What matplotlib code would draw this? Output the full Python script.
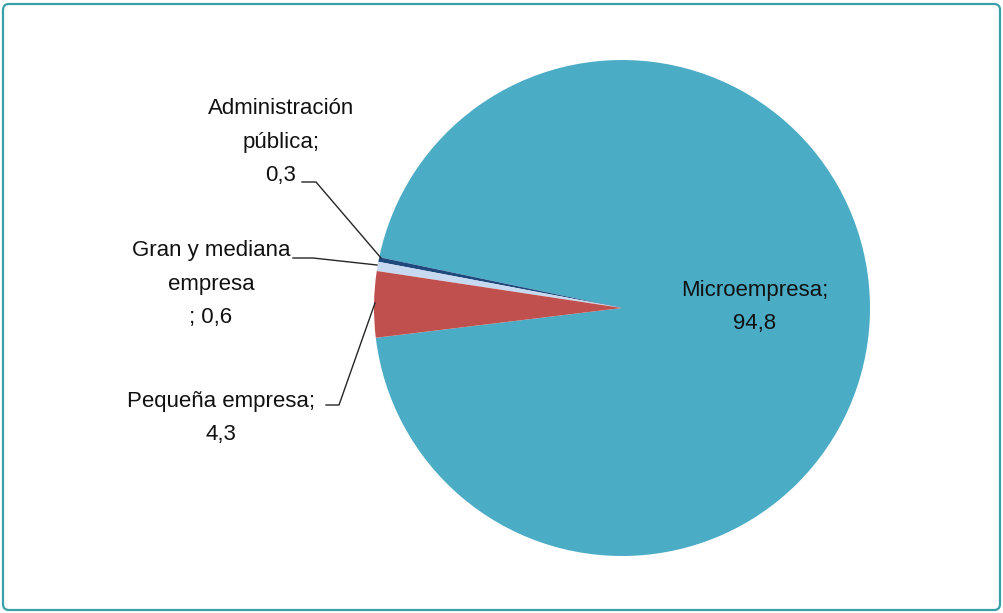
import matplotlib.pyplot as plt
from matplotlib.patches import FancyBboxPatch

# data
sectores = ["Microempresa", "Administración pública", "Gran y mediana empresa", "Pequeña empresa"]
porcentajes = [94.8, 0.3, 0.6, 4.3]
colores = ["#4BACC6", "#1F497D", "#C6D9F1", "#C0504D"]

W, H = 1004, 613
plt.rcParams['font.family'] = ['Liberation Sans', 'DejaVu Sans']

fig = plt.figure(figsize=(W / 100, H / 100), dpi=100)
ax = fig.add_axes([0, 0, 1, 1])

def py(y):
    # pixel row (from top) -> data y
    return H - y

ax.pie(porcentajes, colors=colores, startangle=186.9, counterclock=True,
       center=(622, py(308)), radius=248, frame=True,
       wedgeprops=dict(linewidth=0))
ax.set_xlim(0, W)
ax.set_ylim(0, H)
ax.set_aspect('equal')
ax.axis('off')

# teal rounded frame
frame = FancyBboxPatch((3, py(610)), W - 7, 606, boxstyle="round,pad=0,rounding_size=6",
                       fill=False, edgecolor="#3AA0A8", linewidth=1.6)
ax.add_patch(frame)

fs = 16
lc = "#262626"
tk = dict(fontsize=fs, ha='center', va='center', color='#111111', linespacing=1.8)

ax.text(281, py(142), "Administración\npública;\n0,3", **tk)
ax.text(211, py(284), "Gran y mediana\nempresa\n; 0,6", **tk)
ax.text(221, py(418), "Pequeña empresa;\n4,3", **tk)
ax.text(755, py(307), "Microempresa;\n94,8", **tk)

# leader lines
ax.plot([302, 316, 381], [py(182), py(182), py(258)], color=lc, lw=1)
ax.plot([293, 313, 377], [py(258), py(258), py(265)], color=lc, lw=1)
ax.plot([326, 339, 375], [py(405), py(405), py(303)], color=lc, lw=1)

fig.savefig("out.png", dpi=100)
